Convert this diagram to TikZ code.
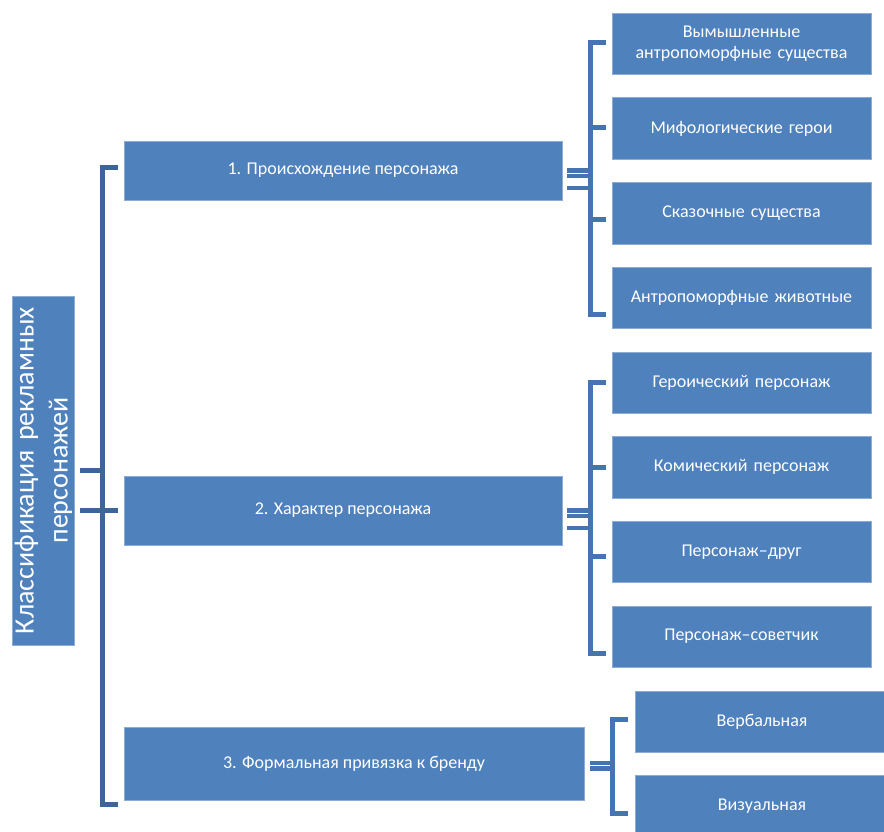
\documentclass[tikz,border=0pt]{standalone}
\usepackage{fontspec}
\setmainfont{Carlito}
\definecolor{boxblue}{RGB}{79,129,189}
\definecolor{lineblue}{RGB}{70,116,176}
\definecolor{darkline}{RGB}{62,101,152}
\usetikzlibrary{calc, positioning}

\begin{document}
\begin{tikzpicture}[
    x=1pt, y=1pt,
    card/.style={fill=boxblue, draw=white!35!boxblue, line width=0.6pt,
      inner sep=2pt, outer sep=0pt, text=white, align=center,
      font=\fontsize{18}{21}\selectfont},
    leaf/.style={card, minimum width=259pt, minimum height=61.5pt, text width=250pt},
    branch/.style={card, anchor=north west},
    rbr/.style={draw=lineblue, line width=5pt},
    lbr/.style={draw=darkline, line width=5pt},
    node distance=23.2pt,
  ]
    \useasboundingbox (0,0) rectangle (884,-832);

    \node[card, rotate=90, minimum width=349pt, minimum height=61pt, text width=340pt,
      font=\fontsize{28}{34}\selectfont] (root) at (43.5,-470.5)
      {Классификация рекламных\\персонажей};

    \node[branch, minimum width=438pt, minimum height=59pt] (m1) at (124,-141) {1. Происхождение персонажа};
    \node[branch, minimum width=438pt, minimum height=69pt] (m2) at (124,-476) {2. Характер персонажа};
    \node[branch, minimum width=460pt, minimum height=73pt] (m3) at (124,-727) {3. Формальная привязка к бренду};

    \node[leaf, anchor=north west] (r1) at (612,-13) {Вымышленные\\антропоморфные существа};
    \node[leaf, below=of r1] (r2) {Мифологические герои};
    \node[leaf, below=of r2] (r3) {Сказочные существа};
    \node[leaf, below=of r3] (r4) {Антропоморфные животные};
    \node[leaf, below=of r4] (r5) {Героический персонаж};
    \node[leaf, below=of r5] (r6) {Комический персонаж};
    \node[leaf, below=of r6] (r7) {Персонаж--друг};
    \node[leaf, below=of r7] (r8) {Персонаж--советчик};

    \node[leaf, anchor=north west, minimum width=250pt] (v1) at (635,-691) {Вербальная};
    \node[leaf, below=of v1, minimum width=250pt] (v2) {Визуальная};

    % root bracket (root is rotated, so its right side is root.south)
    \draw[lbr] ([xshift=6pt]root.south) -- ++(25,0);
    \draw[lbr] ([xshift=6pt]root.south |- m2.west) -- ([xshift=-6pt]m2.west);
    \draw[lbr] ([xshift=-6pt,yshift=2.5pt]m1.west) -| ([xshift=-21.5pt,yshift=-40.5pt]m3.west)
      -- ([xshift=-6pt,yshift=-40.5pt]m3.west);

    % stubs from the branches
    \foreach \m in {m1,m2}
      \foreach \d in {0,-5.5,-17.5}
        \draw[rbr, line width=4.5pt] ([xshift=5pt,yshift=\d pt]\m.east) -- ++(23,0);
    \foreach \d in {0.5,-5}
      \draw[rbr, line width=4.5pt] ([xshift=6pt,yshift=\d pt]m3.east) -- ++(22.5,0);

    % leaf brackets
    \draw[rbr] ([xshift=-6pt,yshift=1.5pt]r1.west) -| ([xshift=-22pt,yshift=-17pt]r4.west)
      -- ([xshift=-6pt,yshift=-17pt]r4.west);
    \draw[rbr] ([xshift=-22pt,yshift=1pt]r2.west) -- ++(16,0);
    \draw[rbr] ([xshift=-22pt,yshift=-6pt]r3.west) -- ++(16,0);

    \draw[rbr] ([xshift=-6pt]r5.west) -| ([xshift=-22pt,yshift=-17pt]r8.west)
      -- ([xshift=-6pt,yshift=-17pt]r8.west);
    \draw[rbr] ([xshift=-22pt]r6.west) -- ++(16,0);
    \draw[rbr] ([xshift=-22pt,yshift=-5pt]r7.west) -- ++(16,0);

    \draw[rbr] ([xshift=-7pt,yshift=2.5pt]v1.west) -| ([xshift=-22.5pt,yshift=-7.5pt]v2.west)
      -- ([xshift=-7pt,yshift=-7.5pt]v2.west);
  \end{tikzpicture}
\end{document}
